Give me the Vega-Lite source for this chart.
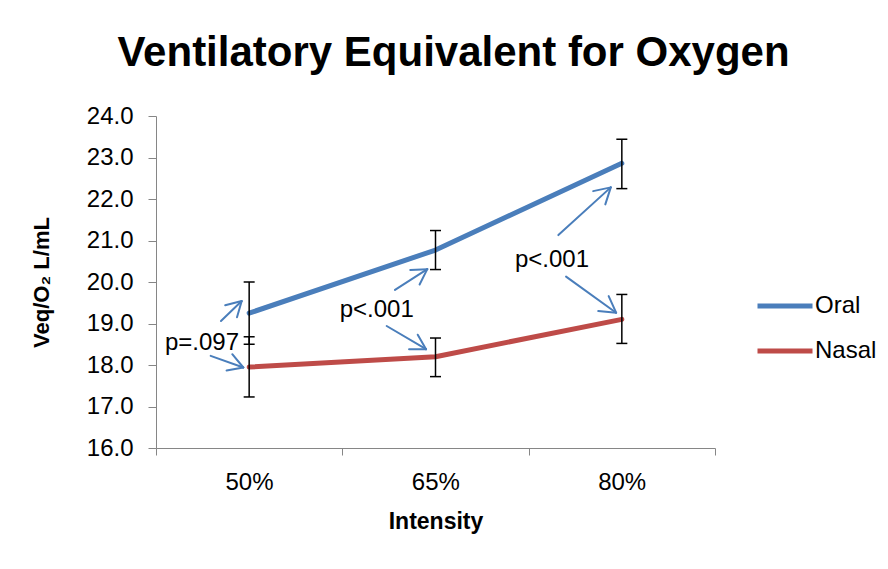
{
  "$schema": "https://vega.github.io/schema/vega-lite/v6.json",
  "autosize": "none",
  "width": 559,
  "height": 332,
  "padding": {"left": 156, "top": 116, "right": 173, "bottom": 121},
  "background": "white",
  "config": {
    "view": {"stroke": null},
    "font": "Liberation Sans",
    "axis": {"labelFont": "Liberation Sans", "titleFont": "Liberation Sans", "labelColor": "black", "titleColor": "black", "domainColor": "#868686", "tickColor": "#868686", "grid": false}
  },
  "title": {
    "text": "Ventilatory Equivalent for Oxygen",
    "font": "Liberation Sans",
    "fontSize": 42,
    "fontWeight": "bold",
    "color": "black",
    "anchor": "middle",
    "dx": 18,
    "baseline": "alphabetic",
    "offset": -4
  },
  "datasets": {
    "series": [
      {"intensity": 50, "group": "Oral", "veq": 19.25, "lo": 18.5, "hi": 20.0},
      {"intensity": 65, "group": "Oral", "veq": 20.77, "lo": 20.3, "hi": 21.24},
      {"intensity": 80, "group": "Oral", "veq": 22.86, "lo": 22.25, "hi": 23.44},
      {"intensity": 50, "group": "Nasal", "veq": 17.95, "lo": 17.23, "hi": 18.68},
      {"intensity": 65, "group": "Nasal", "veq": 18.2, "lo": 17.72, "hi": 18.65},
      {"intensity": 80, "group": "Nasal", "veq": 19.1, "lo": 18.52, "hi": 19.7}
    ],
    "arrows": [
      {"x1": 47.73, "y1": 19.06, "x2": 49.40, "y2": 19.54},
      {"x1": 49.40, "y1": 19.54, "x2": 48.07, "y2": 19.44},
      {"x1": 49.40, "y1": 19.54, "x2": 49.02, "y2": 19.15},
      {"x1": 46.90, "y1": 18.22, "x2": 49.53, "y2": 17.94},
      {"x1": 49.53, "y1": 17.94, "x2": 48.64, "y2": 18.26},
      {"x1": 49.53, "y1": 17.94, "x2": 48.18, "y2": 17.87},
      {"x1": 61.74, "y1": 19.81, "x2": 64.34, "y2": 20.31},
      {"x1": 64.34, "y1": 20.31, "x2": 62.97, "y2": 20.29},
      {"x1": 64.34, "y1": 20.31, "x2": 63.72, "y2": 19.94},
      {"x1": 61.07, "y1": 18.94, "x2": 64.24, "y2": 18.38},
      {"x1": 64.24, "y1": 18.38, "x2": 63.57, "y2": 18.73},
      {"x1": 64.24, "y1": 18.38, "x2": 62.87, "y2": 18.38},
      {"x1": 74.89, "y1": 21.13, "x2": 79.11, "y2": 22.28},
      {"x1": 79.11, "y1": 22.28, "x2": 77.69, "y2": 22.19},
      {"x1": 79.11, "y1": 22.28, "x2": 78.67, "y2": 21.87},
      {"x1": 75.51, "y1": 20.13, "x2": 79.54, "y2": 19.26},
      {"x1": 79.54, "y1": 19.26, "x2": 78.94, "y2": 19.66},
      {"x1": 79.54, "y1": 19.26, "x2": 78.10, "y2": 19.30}
    ],
    "notes": [
      {"x": 46.2, "y": 18.36, "label": "p=.097"},
      {"x": 60.27, "y": 19.15, "label": "p<.001"},
      {"x": 74.38, "y": 20.37, "label": "p<.001"}
    ]
  },
  "layer": [
    {
      "data": {"name": "series"},
      "mark": {"type": "line", "strokeWidth": 5, "strokeCap": "round", "strokeJoin": "round"},
      "encoding": {
        "x": {
          "field": "intensity", "type": "quantitative",
          "scale": {"domain": [42.5, 87.5], "nice": false, "zero": false},
          "axis": {
            "values": [42.5, 57.5, 72.5, 87.5],
            "labelExpr": "datum.value < 80 ? (datum.value + 7.5) + '%' : ''",
            "labelOffset": 93,
            "labelFlush": false,
            "labelFontSize": 24,
            "labelPadding": 15,
            "tickSize": 7,
            "title": "Intensity",
            "titleFontSize": 23,
            "titleFontWeight": "bold",
            "titlePadding": 16
          }
        },
        "y": {
          "field": "veq", "type": "quantitative",
          "scale": {"domain": [16, 24], "nice": false, "zero": false},
          "axis": {
            "values": [16, 17, 18, 19, 20, 21, 22, 23, 24],
            "format": ".1f",
            "labelFontSize": 24,
            "labelPadding": 15,
            "tickSize": 8,
            "title": "Veq/O₂ L/mL",
            "titleFontSize": 22,
            "titleFontWeight": "bold",
            "titlePadding": 33
          }
        },
        "color": {
          "field": "group", "type": "nominal",
          "scale": {"domain": ["Oral", "Nasal"], "range": ["#4A7EBB", "#BE4B48"]},
          "legend": {
            "title": null,
            "orient": "none",
            "legendX": 599,
            "legendY": 160,
            "padding": 0,
            "symbolType": "stroke",
            "symbolSize": 3025,
            "symbolStrokeWidth": 5,
            "labelFontSize": 24,
            "labelFont": "Liberation Sans",
            "labelColor": "black",
            "labelOffset": 0,
            "rowPadding": 3
          }
        }
      }
    },
    {
      "data": {"name": "series"},
      "mark": {"type": "rule", "color": "black", "strokeWidth": 1.5},
      "encoding": {
        "x": {"field": "intensity", "type": "quantitative"},
        "y": {"field": "lo", "type": "quantitative"},
        "y2": {"field": "hi"}
      }
    },
    {
      "data": {"name": "series"},
      "mark": {"type": "tick", "color": "black", "orient": "horizontal", "size": 11, "thickness": 1.5, "opacity": 1},
      "encoding": {
        "x": {"field": "intensity", "type": "quantitative"},
        "y": {"field": "lo", "type": "quantitative"}
      }
    },
    {
      "data": {"name": "series"},
      "mark": {"type": "tick", "color": "black", "orient": "horizontal", "size": 11, "thickness": 1.5, "opacity": 1},
      "encoding": {
        "x": {"field": "intensity", "type": "quantitative"},
        "y": {"field": "hi", "type": "quantitative"}
      }
    },
    {
      "data": {"name": "arrows"},
      "mark": {"type": "rule", "color": "#4A7EBB", "strokeWidth": 2, "strokeCap": "round"},
      "encoding": {
        "x": {"field": "x1", "type": "quantitative"},
        "y": {"field": "y1", "type": "quantitative"},
        "x2": {"field": "x2"},
        "y2": {"field": "y2"}
      }
    },
    {
      "data": {"name": "notes"},
      "mark": {"type": "text", "fontSize": 24, "font": "Liberation Sans", "color": "black", "align": "center", "baseline": "alphabetic"},
      "encoding": {
        "x": {"field": "x", "type": "quantitative"},
        "y": {"field": "y", "type": "quantitative"},
        "text": {"field": "label"}
      }
    }
  ]
}
